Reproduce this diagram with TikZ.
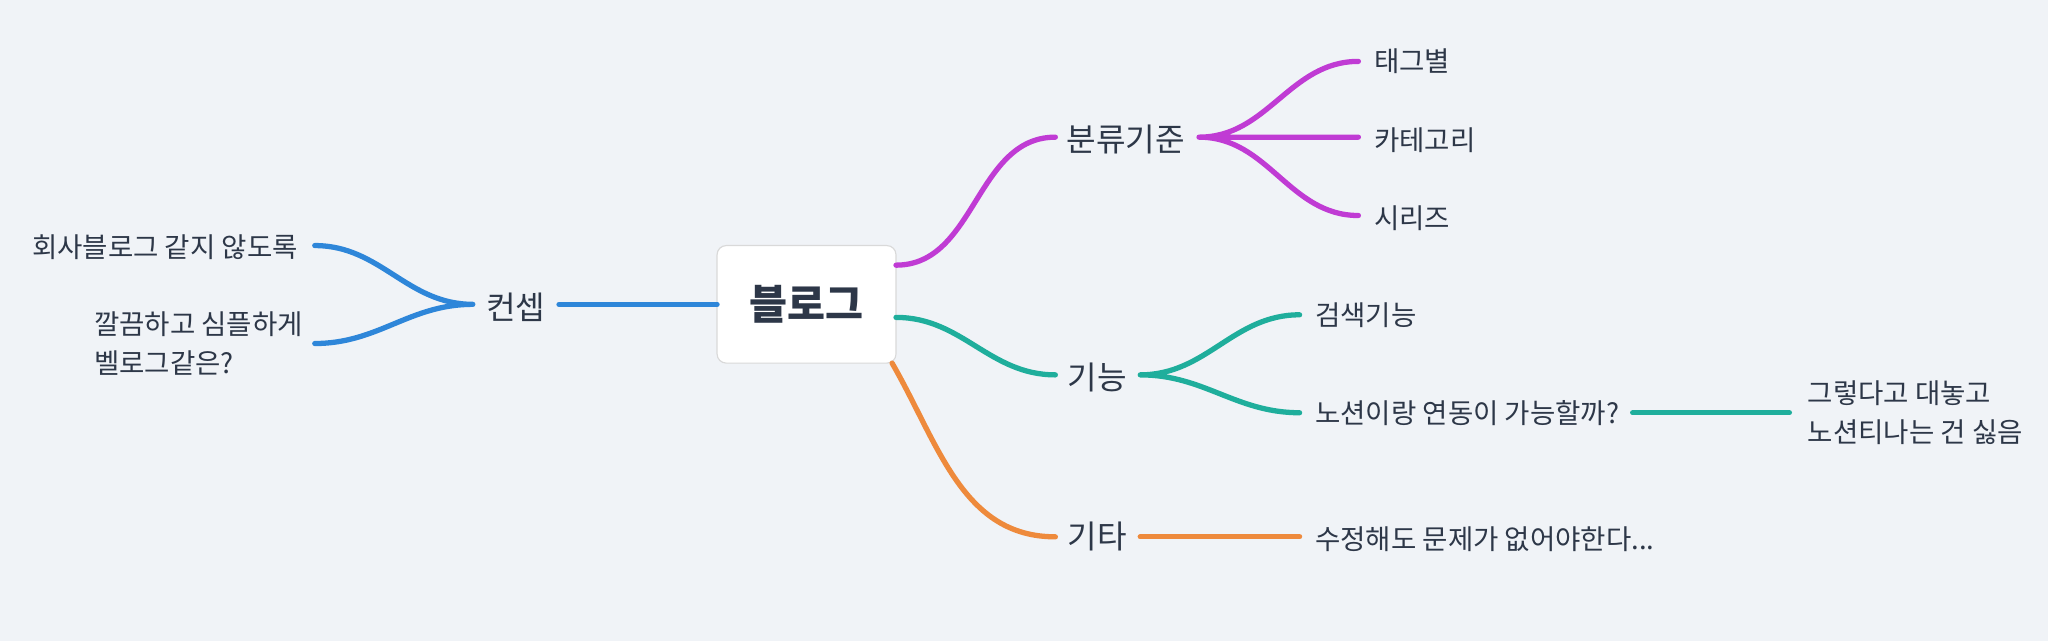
\documentclass[tikz,border=0pt]{standalone}
\usepackage{fontspec}
\setmainfont{Noto Sans CJK KR}
\usetikzlibrary{positioning}
\definecolor{bgc}{HTML}{F0F3F7}
\definecolor{txt}{HTML}{2D3748}
\definecolor{purp}{HTML}{C03BD4}
\definecolor{teal}{HTML}{1FAE9C}
\definecolor{orng}{HTML}{EE8A3C}
\definecolor{blu}{HTML}{2E86D9}
\begin{document}
\begin{tikzpicture}[x=0.02cm,y=-0.02cm,
                    line width=2.3pt,line cap=round,text=txt]
  \tikzstyle{leaf}=[anchor=west,inner sep=0pt,font=\fontsize{12}{17}\selectfont,align=left]
  \tikzstyle{main}=[inner sep=0pt,font=\fontsize{14}{17}\selectfont]
  \tikzstyle{wire}=[out=0,in=180]

  \fill[bgc] (0,0) rectangle (1568,491);
  \useasboundingbox (0,0) rectangle (1568,491);

  \node[draw=black!15,line width=0.5pt,fill=white,rounded corners=4pt,
        minimum width=137*0.02cm,minimum height=90*0.02cm,
        font=\fontsize{18}{20}\selectfont\bfseries] (root) at (617.5,233) {블로그};

  % branches
  \node[main] (cat)  at (862,107) {분류기준};
  \node[main] (func) at (840,289) {기능};
  \node[main] (etc)  at (840,411) {기타};
  \node[main] (con)  at (395,235) {컨셉};

  \coordinate (catL) at (808,105);  \coordinate (catR) at (918,105);
  \coordinate (funL) at (808,287);  \coordinate (funR) at (873,287);
  \coordinate (etcL) at (808,411);  \coordinate (etcR) at (873,411);
  \coordinate (conL) at (362,233);  \coordinate (conR) at (428,233);

  % leaves
  \node[leaf] (tag)    at (1050,47)  {태그별};
  \node[leaf] (cate)   at (1050,107) {카테고리};
  \node[leaf] (ser)    at (1050,167) {시리즈};
  \node[leaf] (srch)   at (1005,241) {검색기능};
  \node[leaf] (notion) at (1005,316) {노션이랑 연동이 가능할까?};
  \node[leaf] (dis)    at (1382,316) {그렇다고 대놓고\\노션티나는 건 싫음};
  \node[leaf] (edit)   at (1005,413) {수정해도 문제가 없어야한다...};
  \node[leaf,anchor=east] (corp) at (230,189) {회사블로그 같지 않도록};
  \node[leaf,anchor=west] (clean) at (70,263) {깔끔하고 심플하게\\벨로그같은?};

  \coordinate (tagE)  at (1040,47);
  \coordinate (cateE) at (1040,105);
  \coordinate (serE)  at (1040,165);
  \coordinate (srchE) at (995,241);
  \coordinate (notE)  at (995,316);
  \coordinate (notR)  at (1250,316);
  \coordinate (disE)  at (1370,316);
  \coordinate (editE) at (995,411);
  \coordinate (corpE) at (241,188);
  \coordinate (clnE)  at (241,263);

  \draw[purp] (686,203) to[wire] (catL);
  \draw[purp] (catR) to[wire] (tagE) (catR) -- (cateE) (catR) to[wire] (serE);
  \draw[teal] (686,243) to[wire] (funL);
  \draw[teal] (funR) to[wire] (srchE) (funR) to[wire] (notE);
  \draw[teal] (notR) -- (disE);
  \draw[orng] (683,278) to[out=-60,in=180] (etcL);
  \draw[orng] (etcR) -- (editE);
  \draw[blu] (549,233) -- (conR);
  \draw[blu] (conL) to[out=180,in=0] (corpE) (conL) to[out=180,in=0] (clnE);
\end{tikzpicture}
\end{document}
